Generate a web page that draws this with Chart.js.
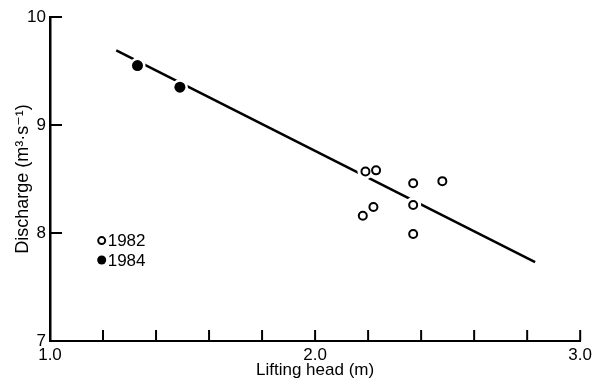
<!DOCTYPE html>
<html>
<head>
<meta charset="utf-8">
<script src="https://cdn.jsdelivr.net/npm/chart.js@4.4.0/dist/chart.umd.min.js"></script>
<style>
  html, body { margin: 0; padding: 0; background: #fff; }
  #wrap { width: 596px; height: 385px; }
</style>
</head>
<body>
<div id="wrap"><canvas id="graph"></canvas></div>
<script>
// values: lifting head (m) vs discharge (m3/s)
var head1982 = [2.18, 2.19, 2.22, 2.23, 2.37, 2.37, 2.37, 2.48];
var discharge1982 = [8.16, 8.57, 8.24, 8.58, 8.46, 8.26, 7.99, 8.48];
var head1984 = [1.33, 1.49];
var discharge1984 = [9.55, 9.35];
// fitted line, its two end points
var fitHead = [1.25, 2.83];
var fitDischarge = [9.69, 7.73];
// axis labels
var xLabels = [1.0, 2.0, 3.0];
var yLabels = [7, 8, 9, 10];
var legendYears = ["1982", "1984"];

var FONT = "'Liberation Sans', 'DejaVu Sans', sans-serif";

function toPoints(xs, ys) {
    var pts = [];
    for (var i = 0; i < xs.length; i++) {
        pts.push({ x: xs[i], y: ys[i] });
    }
    return pts;
}

// short ticks pointing into the plot, and the little legend
var innerTicks = {
    id: "innerTicks",
    afterDraw: function(chart) {
        var ctx = chart.ctx;
        var xs = chart.scales.x, ys = chart.scales.y;
        ctx.save();
        ctx.strokeStyle = "#000";
        ctx.lineWidth = 2;
        xs.ticks.forEach(function(t) {
            var px = xs.getPixelForValue(t.value);
            ctx.beginPath();
            ctx.moveTo(px, ys.bottom);
            ctx.lineTo(px, ys.bottom - 11);
            ctx.stroke();
        });
        ys.ticks.forEach(function(t) {
            var py = ys.getPixelForValue(t.value);
            ctx.beginPath();
            ctx.moveTo(xs.left, py);
            ctx.lineTo(xs.left + 12, py);
            ctx.stroke();
        });

        // legend
        var lx = xs.getPixelForValue(1.195);
        var rows = [7.93, 7.75];
        ctx.font = "17px " + FONT;
        ctx.textBaseline = "middle";
        ctx.fillStyle = "#000";
        rows.forEach(function(v, i) {
            var py = ys.getPixelForValue(v);
            ctx.beginPath();
            ctx.arc(lx, py, i == 0 ? 3.5 : 4.5, 0, Math.PI * 2);
            if (i == 0) {
                ctx.lineWidth = 2;
                ctx.stroke();
            } else {
                ctx.fill();
            }
            ctx.fillText(legendYears[i], lx + 6, py + 1);
        });
        ctx.restore();
    }
};

var allHead = head1982.concat(head1984);
var allDischarge = discharge1982.concat(discharge1984);

var chart = new Chart(document.getElementById("graph").getContext("2d"), {
    type: "scatter",
    data: {
        datasets: [{
            label: "1982",
            data: toPoints(head1982, discharge1982),
            pointRadius: 4,
            pointBorderWidth: 2,
            pointBorderColor: "#000",
            pointBackgroundColor: "#fff",
            order: 0
        }, {
            label: "1984",
            data: toPoints(head1984, discharge1984),
            pointRadius: 5.5,
            pointBorderWidth: 0,
            pointBackgroundColor: "#000",
            order: 0
        }, {
            // white ring so the line breaks around each point
            label: "gap",
            data: toPoints(allHead, allDischarge),
            pointRadius: 8,
            pointBorderWidth: 0,
            pointBackgroundColor: "#fff",
            order: 1
        }, {
            label: "fit",
            data: toPoints(fitHead, fitDischarge),
            showLine: true,
            borderColor: "#000",
            borderWidth: 2.5,
            pointRadius: 0,
            order: 2
        }]
    },
    options: {
        responsive: true,
        maintainAspectRatio: false,
        animation: false,
        layout: { padding: { top: 17, right: 6, left: 0, bottom: 0 } },
        plugins: {
            legend: { display: false },
            tooltip: { enabled: false }
        },
        scales: {
            x: {
                type: "linear",
                min: 1.0,
                max: 3.0,
                grid: { drawOnChartArea: false, drawTicks: false },
                border: { color: "#000", width: 2 },
                ticks: {
                    stepSize: 0.2,
                    autoSkip: false,
                    maxRotation: 0,
                    padding: 4,
                    color: "#000",
                    font: { family: FONT, size: 17 },
                    callback: function(v) {
                        for (var i = 0; i < xLabels.length; i++) {
                            if (Math.abs(v - xLabels[i]) < 0.001) return xLabels[i].toFixed(1);
                        }
                        return "";
                    }
                },
                title: {
                    display: true,
                    text: "Lifting head (m)",
                    color: "#000",
                    padding: { top: 0, bottom: 4 },
                    font: { family: FONT, size: 17 }
                },
                afterFit: function(scale) { scale.height = 44; }
            },
            y: {
                type: "linear",
                min: 7,
                max: 10,
                grid: { drawOnChartArea: false, drawTicks: false },
                border: { color: "#000", width: 2.5 },
                ticks: {
                    stepSize: 1,
                    padding: 4,
                    color: "#000",
                    font: { family: FONT, size: 17 },
                    callback: function(v) {
                        return yLabels.indexOf(v) >= 0 ? String(v) : "";
                    }
                },
                title: {
                    display: true,
                    text: "Discharge (m\u00b3\u00b7s\u207b\u00b9)",
                    color: "#000",
                    padding: { top: 12, bottom: 0 },
                    font: { family: FONT, size: 18 }
                },
                afterFit: function(scale) { scale.width = 50; }
            }
        }
    },
    plugins: [innerTicks]
});
</script>
</body>
</html>
